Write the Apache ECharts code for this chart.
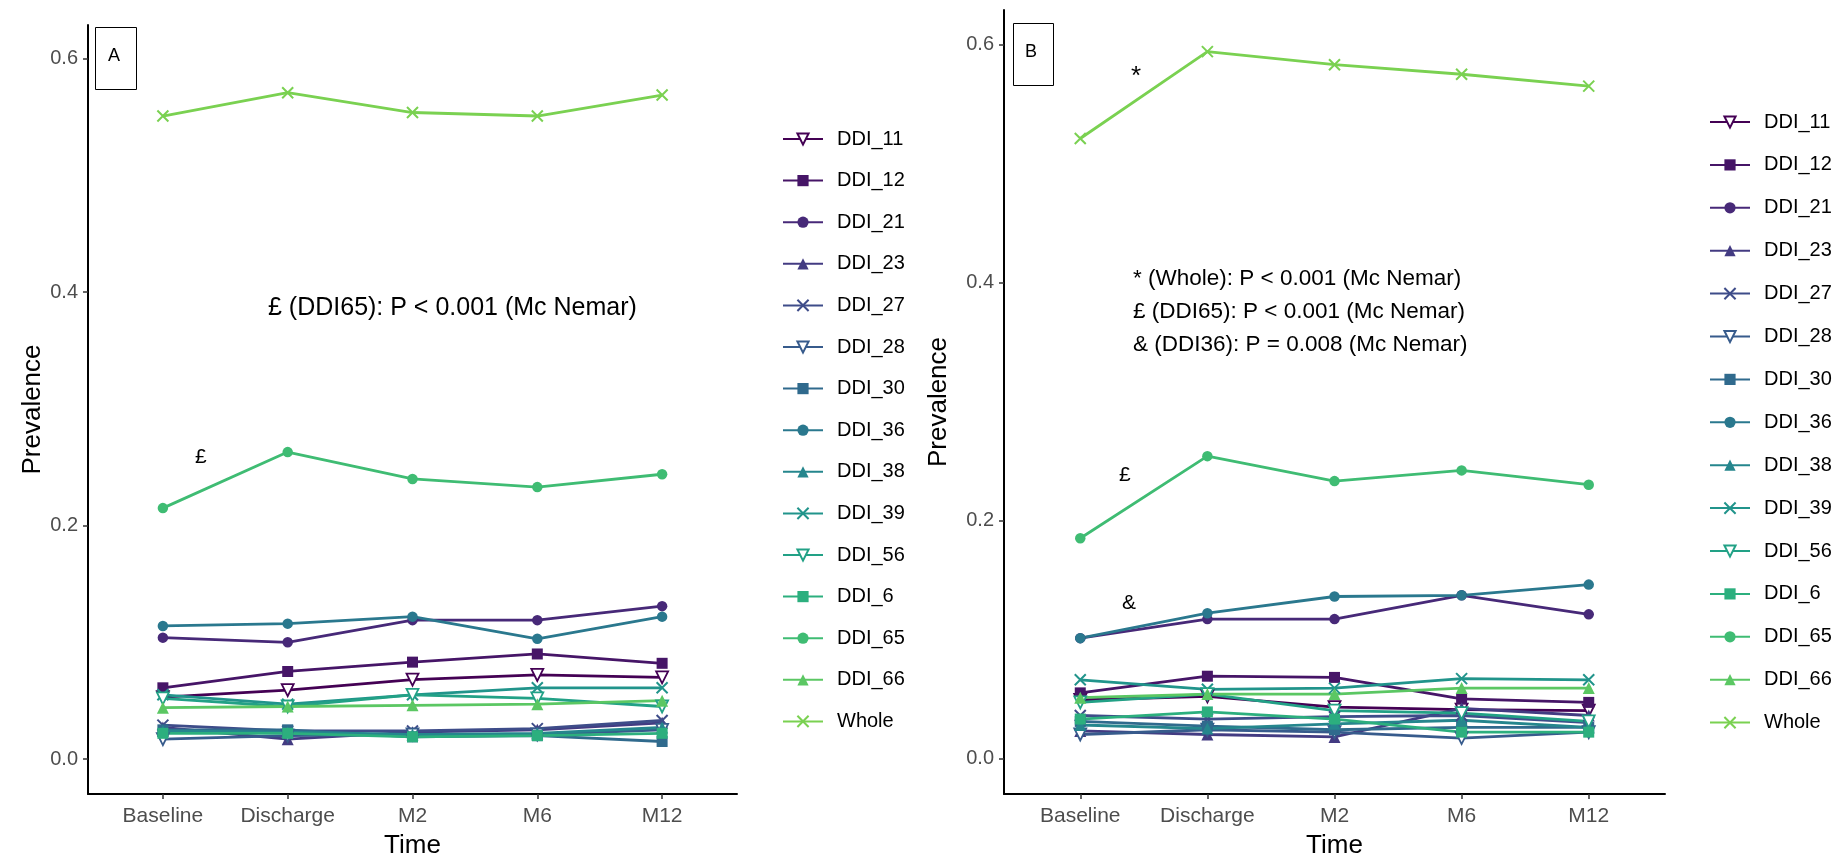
<!DOCTYPE html>
<html><head><meta charset="utf-8">
<script src="https://cdn.jsdelivr.net/npm/echarts@6/dist/echarts.min.js"></script>
<style>html,body{margin:0;padding:0;background:#fff}#c{width:1841px;height:853px}</style>
</head><body><div id="c"></div>
<script>
// ---------- DATA ----------
const categories = ['Baseline', 'Discharge', 'M2', 'M6', 'M12'];
const seriesNames = ['DDI_11','DDI_12','DDI_21','DDI_23','DDI_27','DDI_28','DDI_30','DDI_36','DDI_38','DDI_39','DDI_56','DDI_6','DDI_65','DDI_66','Whole'];
const yTickValues = [0, 0.2, 0.4, 0.6];

// Panel A values (Baseline, Discharge, M2, M6, M12)
const a_DDI_11 = [0.053, 0.059, 0.068, 0.072, 0.070];
const a_DDI_12 = [0.061, 0.075, 0.083, 0.090, 0.082];
const a_DDI_21 = [0.104, 0.100, 0.119, 0.119, 0.131];
const a_DDI_23 = [0.027, 0.017, 0.023, 0.025, 0.031];
const a_DDI_27 = [0.029, 0.024, 0.024, 0.026, 0.033];
const a_DDI_28 = [0.017, 0.020, 0.021, 0.021, 0.025];
const a_DDI_30 = [0.025, 0.025, 0.019, 0.020, 0.015];
const a_DDI_36 = [0.114, 0.116, 0.122, 0.103, 0.122];
const a_DDI_38 = [0.024, 0.023, 0.021, 0.022, 0.027];
const a_DDI_39 = [0.055, 0.047, 0.055, 0.061, 0.061];
const a_DDI_56 = [0.052, 0.045, 0.055, 0.052, 0.045];
const a_DDI_6  = [0.022, 0.022, 0.019, 0.020, 0.022];
const a_DDI_65 = [0.215, 0.263, 0.240, 0.233, 0.244];
const a_DDI_66 = [0.044, 0.045, 0.046, 0.047, 0.050];
const a_Whole  = [0.551, 0.571, 0.554, 0.551, 0.569];

// Panel B values
const b_DDI_11 = [0.049, 0.052, 0.043, 0.041, 0.040];
const b_DDI_12 = [0.055, 0.069, 0.068, 0.050, 0.047];
const b_DDI_21 = [0.101, 0.117, 0.117, 0.137, 0.121];
const b_DDI_23 = [0.023, 0.020, 0.018, 0.042, 0.036];
const b_DDI_27 = [0.036, 0.033, 0.035, 0.036, 0.030];
const b_DDI_28 = [0.020, 0.024, 0.022, 0.017, 0.022];
const b_DDI_30 = [0.031, 0.027, 0.024, 0.026, 0.026];
const b_DDI_36 = [0.101, 0.122, 0.136, 0.137, 0.146];
const b_DDI_38 = [0.028, 0.025, 0.029, 0.032, 0.026];
const b_DDI_39 = [0.066, 0.058, 0.059, 0.067, 0.066];
const b_DDI_56 = [0.047, 0.054, 0.040, 0.038, 0.031];
const b_DDI_6  = [0.033, 0.039, 0.033, 0.022, 0.022];
const b_DDI_65 = [0.185, 0.254, 0.233, 0.242, 0.230];
const b_DDI_66 = [0.051, 0.054, 0.054, 0.059, 0.059];
const b_Whole  = [0.521, 0.594, 0.583, 0.575, 0.565];

const panelA = [a_DDI_11,a_DDI_12,a_DDI_21,a_DDI_23,a_DDI_27,a_DDI_28,a_DDI_30,a_DDI_36,a_DDI_38,a_DDI_39,a_DDI_56,a_DDI_6,a_DDI_65,a_DDI_66,a_Whole];
const panelB = [b_DDI_11,b_DDI_12,b_DDI_21,b_DDI_23,b_DDI_27,b_DDI_28,b_DDI_30,b_DDI_36,b_DDI_38,b_DDI_39,b_DDI_56,b_DDI_6,b_DDI_65,b_DDI_66,b_Whole];

// ---------- STYLE ----------
const colors = ['#440154','#461567','#472978','#433B82','#3E4C89','#375B8C','#306A8D','#2A788E','#25868D','#21948B','#22A186','#2CAF7E','#3FBC73','#5BC763','#7AD151'];
const shapes = ['tdown','square','circle','tup','cross'];
const FONT = '"Liberation Sans", Arial, sans-serif';
const positions = [1, 2, 3, 4, 5];

function symbolFor(i) {
  const s = shapes[i % 5];
  const c = colors[i];
  if (s === 'tdown') return {symbol: 'triangle', symbolRotate: 180, symbolSize: 12, itemStyle: {color: '#ffffff', borderColor: c, borderWidth: 1.8}};
  if (s === 'square') return {symbol: 'rect', symbolSize: 11, itemStyle: {color: c}};
  if (s === 'circle') return {symbol: 'circle', symbolSize: 10.5, itemStyle: {color: c}};
  if (s === 'tup') return {symbol: 'triangle', symbolSize: 12, itemStyle: {color: c}};
  return {symbol: 'path://M0,0L10,10M10,0L0,10', symbolSize: 11, itemStyle: {color: 'none', borderColor: c, borderWidth: 2}};
}

const series = [];
[panelA, panelB].forEach((panel, p) => {
  panel.forEach((vals, i) => {
    series.push(Object.assign({
      name: seriesNames[i], type: 'line', xAxisIndex: p, yAxisIndex: p,
      data: vals.map((v, k) => [positions[k], v]),
      lineStyle: {color: colors[i], width: 2.8},
      showSymbol: true, animation: false,
      emphasis: {disabled: true}
    }, symbolFor(i)));
  });
});

function xAxisFor(idx) {
  return {
    type: 'value', gridIndex: idx, min: 0.4, max: 5.6,
    name: 'Time', nameLocation: 'middle', nameGap: 39,
    nameTextStyle: {fontFamily: FONT, fontSize: 26, color: '#000'},
    axisLine: {show: true, onZero: false, lineStyle: {color: '#000', width: 2}},
    axisTick: {show: true, length: 5, customValues: positions, lineStyle: {color: '#333', width: 1.5}},
    axisLabel: {customValues: positions, formatter: v => categories[Math.round(v) - 1], fontFamily: FONT, fontSize: 21, color: '#4D4D4D', margin: 12},
    splitLine: {show: false}
  };
}
function yAxisFor(idx) {
  return {
    type: 'value', gridIndex: idx, min: -0.03, max: 0.629,
    name: 'Prevalence', nameLocation: 'middle', nameGap: idx === 0 ? 40 : 52, nameRotate: 90,
    nameTextStyle: {fontFamily: FONT, fontSize: 26, color: '#000'},
    axisLine: {show: true, onZero: false, lineStyle: {color: '#000', width: 2}},
    axisTick: {show: true, length: 5, customValues: yTickValues, lineStyle: {color: '#333', width: 1.5}},
    axisLabel: {customValues: yTickValues, formatter: v => v.toFixed(1), fontFamily: FONT, fontSize: 20, color: '#4D4D4D', margin: 10},
    splitLine: {show: false}
  };
}
function legendFor(left, top, gap) {
  return {
    data: seriesNames, orient: 'vertical', left: left, top: top,
    itemWidth: 40, itemHeight: 14, itemGap: gap,
    textStyle: {fontFamily: FONT, fontSize: 20, color: '#000', padding: [0, 0, 0, 9]},
    selectedMode: false
  };
}

const annoA = {fontFamily: FONT, fontSize: 25, fill: '#000'};
const annoB = {fontFamily: FONT, fontSize: 22.5, fill: '#000'};
const option = {
  backgroundColor: '#fff',
  animation: false,
  grid: [
    {left: 88, top: 25, width: 649, height: 769, outerBoundsMode: 'none', containLabel: false},
    {left: 1004, top: 10, width: 661, height: 784, outerBoundsMode: 'none', containLabel: false}
  ],
  xAxis: [xAxisFor(0), xAxisFor(1)],
  yAxis: [yAxisFor(0), yAxisFor(1)],
  legend: [legendFor(777, 124, 21.6), legendFor(1704, 107, 22.9)],
  series: series,
  graphic: [
    {type: 'rect', left: 95, top: 27, shape: {width: 41, height: 62}, style: {fill: '#fff', stroke: '#000', lineWidth: 1}},
    {type: 'text', left: 108, top: 47, style: Object.assign({}, annoA, {text: 'A', fontSize: 18})},
    {type: 'rect', left: 1013, top: 23, shape: {width: 40, height: 62}, style: {fill: '#fff', stroke: '#000', lineWidth: 1}},
    {type: 'text', left: 1025, top: 43, style: Object.assign({}, annoA, {text: 'B', fontSize: 18})},
    {type: 'text', left: 268, top: 296, style: Object.assign({}, annoA, {text: '£ (DDI65): P < 0.001 (Mc Nemar)'})},
    {type: 'text', left: 195, top: 447, style: Object.assign({}, annoA, {text: '£', fontSize: 21})},
    {type: 'text', left: 1131, top: 64, style: Object.assign({}, annoB, {text: '*', fontSize: 26})},
    {type: 'text', left: 1119, top: 465, style: Object.assign({}, annoB, {text: '£', fontSize: 21})},
    {type: 'text', left: 1122, top: 593, style: Object.assign({}, annoB, {text: '&', fontSize: 21})},
    {type: 'text', left: 1133, top: 267, style: Object.assign({}, annoB, {text: '* (Whole): P < 0.001 (Mc Nemar)'})},
    {type: 'text', left: 1133, top: 300, style: Object.assign({}, annoB, {text: '£ (DDI65): P < 0.001 (Mc Nemar)'})},
    {type: 'text', left: 1133, top: 333, style: Object.assign({}, annoB, {text: '& (DDI36): P = 0.008 (Mc Nemar)'})}
  ]
};
const chart = echarts.init(document.getElementById('c'), null, {renderer: 'canvas'});
chart.setOption(option);
</script></body></html>
